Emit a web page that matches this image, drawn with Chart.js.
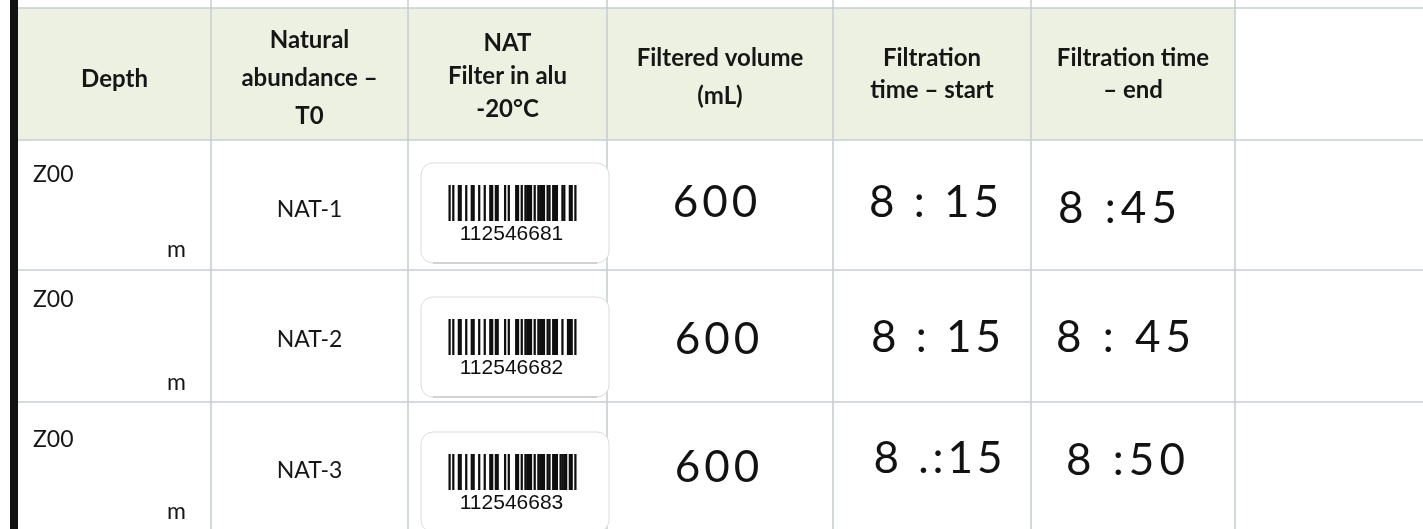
<!DOCTYPE html>
<html>
<head>
<meta charset="utf-8">
<script src="https://cdn.jsdelivr.net/npm/chart.js@4.4.0/dist/chart.umd.min.js"></script>
<style>
html,body{margin:0;padding:0;background:#fff;overflow:hidden}
canvas{display:block}
</style>
</head>
<body>
<canvas id="sheet" width="1423" height="529"></canvas>
<script>
'use strict';
// sheet contents
var headers = [
    ['Depth'],
    ['Natural', 'abundance –', 'T0'],
    ['NAT', 'Filter in alu', '-20°C'],
    ['Filtered volume', '(mL)'],
    ['Filtration', 'time – start'],
    ['Filtration time', '– end'],
    []
];
var depths = ['Z00', 'Z00', 'Z00'];
var depthUnits = ['m', 'm', 'm'];
var samples = ['NAT-1', 'NAT-2', 'NAT-3'];
var barcodes = ['112546681', '112546682', '112546683'];
var volumes = ['600', '600', '600'];
var startTimes = ['8 : 15', '8 : 15', '8 .:15'];
var endTimes = ['8 :45', '8 : 45', '8 :50'];

// layout of the scanned form (table units == px)
var layout = {
    cols: [18, 211, 408, 607, 833, 1031, 1235, 1423],
    rows: [8, 140, 270, 402, 529],
    headMid: [79, 78, 76, 77, 74, 74, 74],
    headLine: [36, 38, 33, 38, 32, 32, 32],
    labelTop: [163, 297, 432],
    hand: { 3: [[-3, -2], [-1, 4], [-1, 2]], 4: [[4, -2], [6, 2], [8, -7]], 5: [[-13, 4], [-7, 2], [-5, -5]] }
};
var colors = {
    head: '#edf1e1', grid: '#c6d0d1', ink: '#161616', pen: '#121212', edge: '#121212', label: '#dcdcdc'
};
var EAN = ['0001101', '0011001', '0010011', '0111101', '0100011', '0110001', '0101111', '0111011', '0110111', '0001011'];

function mid(a, i) { return (a[i] + a[i + 1]) / 2; }

function cellPoints(col, dy) {
    return [0, 1, 2].map(function (r) {
        var d = dy ? dy[r] : [0, 0];
        return { x: mid(layout.cols, col) + d[0], y: mid(layout.rows, r + 1) + d[1] };
    });
}

var sheetPlugin = {
    id: 'sheet',
    beforeDatasetsDraw: function (chart) {
        var c = chart.ctx, sx = chart.scales.x, sy = chart.scales.y;
        var X = function (v) { return sx.getPixelForValue(v); };
        var Y = function (v) { return sy.getPixelForValue(v); };
        var cols = layout.cols, rows = layout.rows;
        c.save();
        c.fillStyle = '#ffffff';
        c.fillRect(0, 0, chart.width, chart.height);
        // header band
        c.fillStyle = colors.head;
        c.fillRect(X(cols[0]), Y(rows[0]), X(cols[6]) - X(cols[0]), Y(rows[1]) - Y(rows[0]));
        // grid
        c.strokeStyle = colors.grid; c.lineWidth = 1.6;
        c.beginPath();
        for (var i = 0; i < 4; i++) {
            c.moveTo(X(cols[0]), Y(rows[i])); c.lineTo(X(cols[7]), Y(rows[i]));
        }
        for (var j = 1; j < 7; j++) {
            c.moveTo(X(cols[j]), Y(0)); c.lineTo(X(cols[j]), Y(529));
        }
        c.stroke();
        // left border
        c.fillStyle = colors.edge;
        c.fillRect(X(10), Y(0), X(18) - X(10), chart.height);
        // barcode stickers
        for (var r = 0; r < 3; r++) {
            var t = Y(layout.labelTop[r]), l = X(421), w = X(609) - l, h = 100;
            c.fillStyle = '#ffffff';
            c.strokeStyle = colors.label; c.lineWidth = 1;
            c.beginPath(); c.roundRect(l, t, w, h, 12); c.fill(); c.stroke();
            c.strokeStyle = '#c8c8c8'; c.lineWidth = 1.5;
            c.beginPath(); c.moveTo(l + 12, t + h); c.lineTo(l + w - 12, t + h); c.stroke();
            // bars
            var bits = '101' + barcodes[r].split('').map(function (d) { return EAN[+d]; }).join('') + '101';
            var m = 1.85, bx = mid(layout.cols, 2) + 5 - bits.length * m / 2;
            c.fillStyle = '#0e0e0e';
            for (var k = 0; k < bits.length; k++) {
                if (bits[k] === '1') { c.fillRect(bx + k * m - 0.2, t + 22, m + 0.4, 36); }
            }
            c.font = '21px "Liberation Sans", Arial, sans-serif';
            c.textAlign = 'center'; c.textBaseline = 'middle';
            c.fillText(barcodes[r], mid(layout.cols, 2) + 4, t + 71);
        }
        // header text
        c.fillStyle = colors.ink;
        c.font = 'bold 24px Lato, "Open Sans", sans-serif';
        headers.forEach(function (lines, i) {
            var lh = layout.headLine[i], y0 = layout.headMid[i] - (lines.length - 1) * lh / 2;
            lines.forEach(function (s, n) {
                c.fillText(s, X(mid(cols, i)), Y(y0 + n * lh));
            });
        });
        c.restore();
    },
    afterDatasetsDraw: function (chart) {
        var c = chart.ctx;
        c.save();
        c.textBaseline = 'middle';
        chart.data.datasets.forEach(function (ds, i) {
            var meta = chart.getDatasetMeta(i);
            c.font = ds.font; c.fillStyle = ds.ink; c.textAlign = ds.align || 'center';
            c.letterSpacing = ds.spacing || '0px';
            meta.data.forEach(function (el, j) {
                c.fillText(ds.texts[j], el.x, el.y);
            });
        });
        c.restore();
    }
};

var body = '23px Lato, "Open Sans", sans-serif';
var pen = '400 44px Lato, "Open Sans", sans-serif';

new Chart(document.getElementById('sheet').getContext('2d'), {
    type: 'scatter',
    data: {
        datasets: [
            { texts: depths, font: body, ink: colors.ink, align: 'left',
              data: [0, 1, 2].map(function (r) { return { x: 33, y: layout.rows[r + 1] + [35, 30, 38][r] }; }) },
            { texts: depthUnits, font: body, ink: colors.ink, align: 'right',
              data: [0, 1, 2].map(function (r) { return { x: 186, y: layout.rows[r + 1] + [110, 113, 110][r] }; }) },
            { texts: samples, font: body, ink: colors.ink, data: cellPoints(1, [[0, 5], [0, 4], [0, 5]]) },
            { texts: volumes, font: pen, ink: colors.pen, spacing: '4px', data: cellPoints(3, layout.hand[3]) },
            { texts: startTimes, font: pen, ink: colors.pen, spacing: '4px', data: cellPoints(4, layout.hand[4]) },
            { texts: endTimes, font: pen, ink: colors.pen, spacing: '5px', data: cellPoints(5, layout.hand[5]) }
        ]
    },
    options: {
        responsive: false,
        animation: false,
        devicePixelRatio: 1,
        layout: { padding: 0 },
        elements: { point: { radius: 0, hoverRadius: 0 } },
        scales: {
            x: { type: 'linear', min: 0, max: 1423, display: false },
            y: { type: 'linear', min: 0, max: 529, reverse: true, display: false }
        },
        plugins: { legend: { display: false }, tooltip: { enabled: false } },
        events: []
    },
    plugins: [sheetPlugin]
});
</script>
</body>
</html>
